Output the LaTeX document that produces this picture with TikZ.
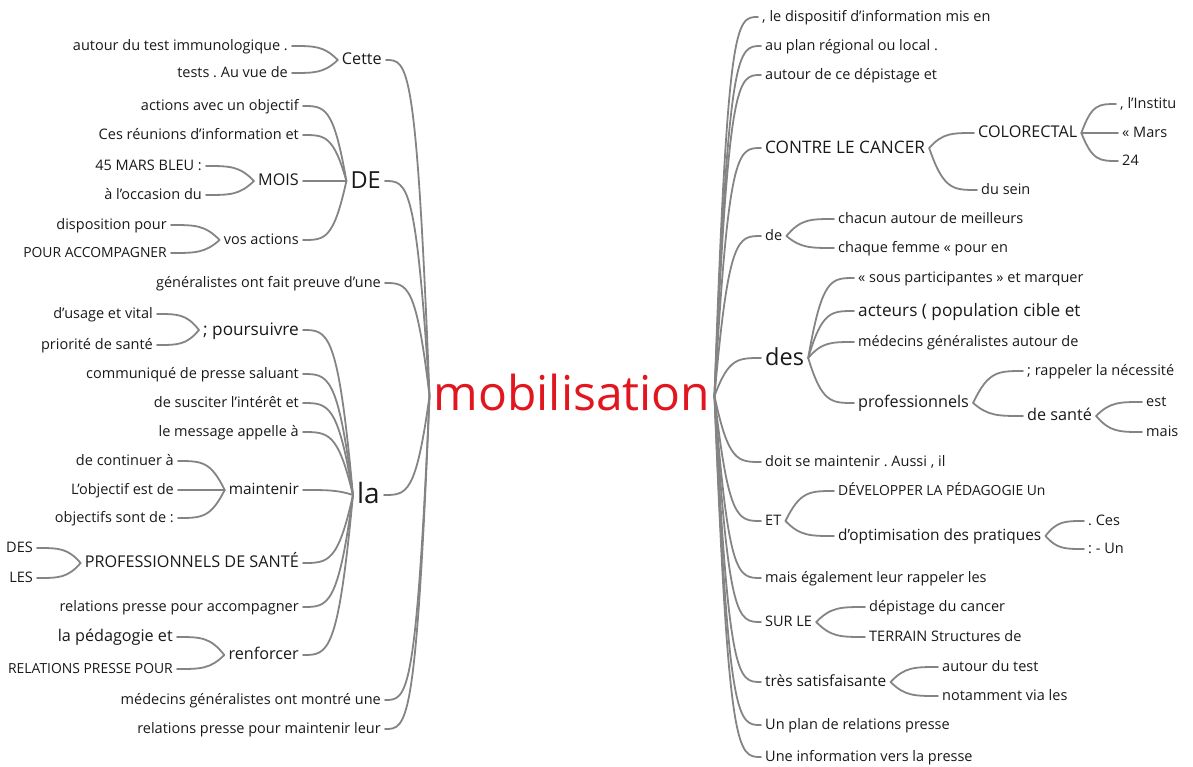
\documentclass[tikz,border=0pt]{standalone}
\usepackage{fontspec}
\setmainfont{Open Sans}
\frenchspacing
\usetikzlibrary{calc}
\definecolor{linkgray}{RGB}{132,132,132}
\definecolor{rootred}{RGB}{226,22,30}
\definecolor{txt}{RGB}{25,25,25}
\newcommand\branch[2]{\draw[link] let \p1=(#1),\p2=(#2) in (\p1)
  .. controls ({\x1+0.3*(\x2-\x1)},\y2) and ({\x1+0.5*(\x2-\x1)},\y2) .. (\p2);}
\begin{document}
\begin{tikzpicture}[x=1pt,y=-1pt,line join=round,line cap=round,
    every node/.style={inner sep=4pt,text=txt},
    txc/.style={font=\fontsize{13.9}{16}\selectfont,text height=11.1pt,text depth=2.8pt},
    txs/.style={font=\fontsize{14.5}{17}\selectfont,text height=11.6pt,text depth=2.9pt},
    txm/.style={font=\fontsize{15.4}{18}\selectfont,text height=12.3pt,text depth=3.1pt},
    txb/.style={font=\fontsize{16.2}{19}\selectfont,text height=13pt,text depth=3.2pt},
    txx/.style={font=\fontsize{17.2}{20}\selectfont,text height=13.8pt,text depth=3.4pt},
    txl/.style={font=\fontsize{23.5}{27}\selectfont,text height=18.8pt,text depth=4.7pt},
    lt/.style={anchor=east}, rt/.style={anchor=west},
    link/.style={draw=linkgray,line width=1.8pt}]
  \useasboundingbox (0,0) rectangle (1193,766);
  % centre
  \node[font=\fontsize{48}{54}\selectfont,text=rootred,text height=38.4pt,text depth=9.6pt]
    (mob) at (572,396) {mobilisation};

  % left side
  \node[lt,txb] (cette) at (386,60) {Cette};
  \node[lt,txs] (cette1) at (292,46) {autour du test immunologique .};
  \node[lt,txs] (cette2) at (292,73) {tests . Au vue de};
  \node[lt,txl] (de) at (385,181) {DE};
  \node[lt,txs] (de1) at (303,106) {actions avec un objectif};
  \node[lt,txs] (de2) at (303,135) {Ces réunions d'information et};
  \node[lt,txb] (mois) at (303,181) {MOIS};
  \node[lt,txs] (mois1) at (206,166) {45 MARS BLEU :};
  \node[lt,txs] (mois2) at (206,195) {à l'occasion du};
  \node[lt,txs] (vos) at (303,240) {vos actions};
  \node[lt,txs] (vos1) at (171,225) {disposition pour};
  \node[lt,txc] (vos2) at (171,253) {POUR ACCOMPAGNER};
  \node[lt,txs] (gen) at (385,283) {généralistes ont fait preuve d'une};
  \node[lt,font=\fontsize{28}{32}\selectfont,text height=22.4pt,text depth=5.6pt]
    (la) at (384,495) {la};
  \node[lt,txx] (pours) at (303,330) {; poursuivre};
  \node[lt,txs] (pours1) at (157,314) {d'usage et vital};
  \node[lt,txs] (pours2) at (157,345) {priorité de santé};
  \node[lt,txs] (la1) at (303,374) {communiqué de presse saluant};
  \node[lt,txs] (la2) at (303,403) {de susciter l'intérêt et};
  \node[lt,txs] (la3) at (303,432) {le message appelle à};
  \node[lt,txm] (maint) at (303,490) {maintenir};
  \node[lt,txs] (maint1) at (178,461) {de continuer à};
  \node[lt,txs] (maint2) at (178,490) {L'objectif est de};
  \node[lt,txs] (maint3) at (178,518) {objectifs sont de :};
  \node[lt,txb] (prof) at (303,563) {PROFESSIONNELS DE SANTÉ};
  \node[lt,txs] (prof1) at (37,548) {DES};
  \node[lt,txs] (prof2) at (37,578) {LES};
  \node[lt,txs] (la4) at (303,607) {relations presse pour accompagner};
  \node[lt,txb] (renf) at (303,655) {renforcer};
  \node[lt,txb] (renf1) at (177,637) {la pédagogie et};
  \node[lt,txc] (renf2) at (177,669) {RELATIONS PRESSE POUR};
  \node[lt,txs] (med) at (385,700) {médecins généralistes ont montré une};
  \node[lt,txs] (rel) at (385,729) {relations presse pour maintenir leur};

  % right side
  \node[rt,txs] (disp) at (758,17) {, le dispositif d'information mis en};
  \node[rt,txs] (plan) at (761,46) {au plan régional ou local .};
  \node[rt,txs] (autour) at (761,75) {autour de ce dépistage et};
  \node[rt,txx] (contre) at (761,148) {CONTRE LE CANCER};
  \node[rt,txb] (colo) at (974,133) {COLORECTAL};
  \node[rt,txs] (colo1) at (1116,104) {, l'Institu};
  \node[rt,txs] (colo2) at (1118,133) {« Mars};
  \node[rt,txs] (colo3) at (1118,161) {24};
  \node[rt,txs] (sein) at (977,190) {du sein};
  \node[rt,txs] (dee) at (761,236) {de};
  \node[rt,txs] (dee1) at (834,219) {chacun autour de meilleurs};
  \node[rt,txs] (dee2) at (834,248) {chaque femme « pour en};
  \node[rt,txl] (des) at (761,358) {des};
  \node[rt,txs] (des1) at (854,278) {« sous participantes » et marquer};
  \node[rt,txx] (act) at (854,311) {acteurs ( population cible et};
  \node[rt,txs] (des2) at (854,342) {médecins généralistes autour de};
  \node[rt,txb] (pro) at (854,403) {professionnels};
  \node[rt,txs] (pro1) at (1023,371) {; rappeler la nécessité};
  \node[rt,txb] (sante) at (1023,416) {de santé};
  \node[rt,txs] (sante1) at (1142,402) {est};
  \node[rt,txs] (sante2) at (1142,432) {mais};
  \node[rt,txs] (doit) at (761,462) {doit se maintenir . Aussi , il};
  \node[rt,txs] (et) at (761,521) {ET};
  \node[rt,txc] (et1) at (834,491) {DÉVELOPPER LA PÉDAGOGIE Un};
  \node[rt,txm] (optim) at (834,536) {d'optimisation des pratiques};
  \node[rt,txs] (optim1) at (1084,521) {. Ces};
  \node[rt,txs] (optim2) at (1084,549) {: - Un};
  \node[rt,txs] (rapp) at (761,578) {mais également leur rappeler les};
  \node[rt,txs] (sur) at (761,622) {SUR LE};
  \node[rt,txs] (sur1) at (865,607) {dépistage du cancer};
  \node[rt,txs] (sur2) at (865,637) {TERRAIN Structures de};
  \node[rt,txm] (tres) at (761,682) {très satisfaisante};
  \node[rt,txs] (tres1) at (938,667) {autour du test};
  \node[rt,txs] (tres2) at (938,696) {notamment via les};
  \node[rt,txs] (unplan) at (761,725) {Un plan de relations presse};
  \node[rt,txs] (uneinfo) at (761,757) {Une information vers la presse};

  % links, left
  \foreach \k in {cette,de,gen,la,med,rel}
    {\branch{mob.west}{\k.east}}
  \foreach \k in {cette1,cette2}
    {\branch{cette.west}{\k.east}}
  \foreach \k in {de1,de2,mois,vos}
    {\branch{de.west}{\k.east}}
  \foreach \k in {mois1,mois2}
    {\branch{mois.west}{\k.east}}
  \foreach \k in {vos1,vos2}
    {\branch{vos.west}{\k.east}}
  \foreach \k in {pours,la1,la2,la3,maint,prof,la4,renf}
    {\branch{la.west}{\k.east}}
  \foreach \k in {pours1,pours2}
    {\branch{pours.west}{\k.east}}
  \foreach \k in {maint1,maint2,maint3}
    {\branch{maint.west}{\k.east}}
  \foreach \k in {prof1,prof2}
    {\branch{prof.west}{\k.east}}
  \foreach \k in {renf1,renf2}
    {\branch{renf.west}{\k.east}}

  % links, right
  \foreach \k in {disp,plan,autour,contre,dee,des,doit,et,rapp,sur,tres,unplan,uneinfo}
    {\branch{mob.east}{\k.west}}
  \foreach \k in {colo,sein}
    {\branch{contre.east}{\k.west}}
  \foreach \k in {colo1,colo2,colo3}
    {\branch{colo.east}{\k.west}}
  \foreach \k in {dee1,dee2}
    {\branch{dee.east}{\k.west}}
  \foreach \k in {des1,act,des2,pro}
    {\branch{des.east}{\k.west}}
  \foreach \k in {pro1,sante}
    {\branch{pro.east}{\k.west}}
  \foreach \k in {sante1,sante2}
    {\branch{sante.east}{\k.west}}
  \foreach \k in {et1,optim}
    {\branch{et.east}{\k.west}}
  \foreach \k in {optim1,optim2}
    {\branch{optim.east}{\k.west}}
  \foreach \k in {sur1,sur2}
    {\branch{sur.east}{\k.west}}
  \foreach \k in {tres1,tres2}
    {\branch{tres.east}{\k.west}}
\end{tikzpicture}
\end{document}
